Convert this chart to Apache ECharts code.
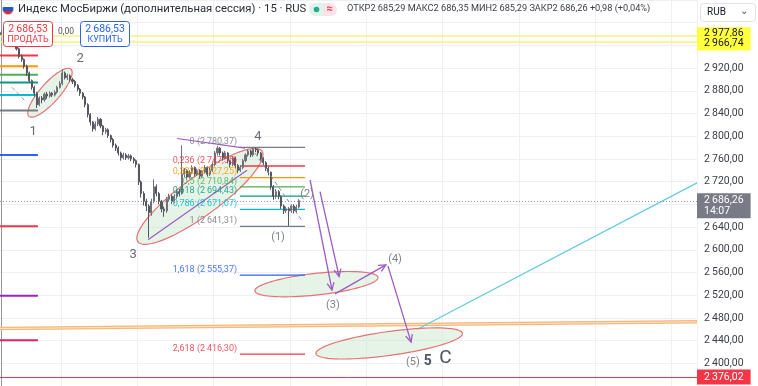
<!DOCTYPE html>
<html><head><meta charset="utf-8">
<script src="https://cdn.jsdelivr.net/npm/echarts@6/dist/echarts.min.js"></script>
<style>html,body{margin:0;padding:0;background:#fff}#c{width:758px;height:386px}</style>
</head><body><div id="c"></div>
<script>
// ---------- DATA ----------
const N_SLOTS = 274;                 // 15-min bar slots across the visible time range
const slots = Array.from({length: N_SLOTS}, (_, i) => 'b' + i);
// [open, close, low, high]
const candles = [
[2978,2982.9,2975,2986],[2982.9,2988.0,2980,2991],[2988.0,2977.8,2975,2990],[2977.8,2984.6,2976,2987],
[2984.6,2974.4,2971,2986],[2974.4,2965.9,2962,2977],[2965.9,2954.0,2951,2968],[2954.0,2940.4,2937,2956],
[2940.4,2935.3,2931,2944],[2935.3,2923.4,2919,2937],[2923.4,2911.5,2906,2926],[2911.5,2897.9,2894,2914],
[2897.9,2886.1,2882,2900],[2886.1,2875.8,2870,2889],[2875.8,2855.5,2850,2878],[2855.5,2867.4,2853,2870],
[2867.4,2864.0,2858,2871],[2864.0,2874.2,2861,2877],[2874.2,2870.8,2866,2878],[2870.8,2875.8,2868,2879],
[2875.8,2872.5,2869,2878],[2872.5,2877.6,2870,2881],[2877.6,2886.1,2875,2889],[2886.1,2892.9,2884,2897],
[2892.9,2911.5,2890,2918],[2911.5,2903.1,2900,2914],[2903.1,2906.5,2899,2910],[2906.5,2899.7,2896,2909],
[2899.7,2896.3,2892,2903],[2896.3,2889.5,2886,2899],[2889.5,2882.7,2879,2892],[2882.7,2875.8,2871,2885],
[2875.8,2869.1,2865,2878],[2869.1,2855.5,2851,2871],[2855.5,2838.5,2833,2858],[2838.5,2824.9,2819,2841],
[2824.9,2813.0,2808,2827],[2813.0,2821.5,2810,2826],[2821.5,2830.0,2818,2834],[2830.0,2818.1,2814,2832],
[2818.1,2807.9,2802,2820],[2807.9,2811.3,2804,2815],[2811.3,2801.1,2797,2814],[2801.1,2794.3,2789,2803],
[2794.3,2784.1,2780,2797],[2784.1,2779.0,2774,2787],[2779.0,2770.5,2766,2782],[2770.5,2762.0,2757,2773],
[2762.0,2767.1,2759,2771],[2767.1,2762.0,2758,2770],[2762.0,2765.4,2759,2769],[2765.4,2760.3,2756,2768],
[2760.3,2756.9,2752,2763],[2756.9,2750.1,2745,2759],[2750.1,2719.5,2714,2752],[2719.5,2699.1,2692,2722],
[2699.1,2685.5,2678,2703],[2685.5,2677.0,2668,2690],[2677.0,2665.1,2621,2680],[2665.1,2685.5,2660,2690],
[2685.5,2711.0,2682,2724],[2711.0,2699.1,2694,2715],[2699.1,2685.5,2680,2702],[2685.5,2672.0,2666,2688],
[2672.0,2668.6,2658,2676],[2668.6,2689.0,2665,2693],[2689.0,2694.0,2685,2699],[2694.0,2685.5,2681,2697],
[2685.5,2694.0,2682,2698],[2694.0,2702.5,2690,2706],[2702.5,2699.1,2694,2707],[2699.1,2733.1,2697,2784],
[2733.1,2739.9,2728,2744],[2739.9,2728.0,2724,2742],[2728.0,2736.5,2725,2740],[2736.5,2745.0,2733,2749],
[2745.0,2733.1,2729,2747],[2733.1,2739.9,2730,2743],[2739.9,2729.7,2725,2742],[2729.7,2736.5,2727,2740],
[2736.5,2745.0,2734,2749],[2745.0,2733.1,2729,2747],[2733.1,2739.9,2730,2744],[2739.9,2750.1,2737,2754],
[2750.1,2770.5,2747,2774],[2770.5,2779.0,2766,2783],[2779.0,2770.5,2766,2781],[2770.5,2762.0,2757,2773],
[2762.0,2770.5,2759,2774],[2770.5,2756.9,2752,2772],[2756.9,2750.1,2745,2759],[2750.1,2762.0,2747,2765],
[2762.0,2748.4,2743,2764],[2748.4,2739.9,2735,2751],[2739.9,2745.0,2737,2749],[2745.0,2756.9,2742,2760],
[2756.9,2767.1,2754,2770],[2767.1,2773.9,2764,2777],[2773.9,2767.1,2763,2776],[2767.1,2777.3,2764,2779],
[2777.3,2776.0,2772,2780.4],[2776.0,2770.5,2766,2778],[2770.5,2760.3,2756,2772],[2760.3,2753.5,2749,2763],
[2753.5,2743.3,2739,2756],[2743.3,2736.5,2731,2746],[2736.5,2711.0,2706,2738],[2711.0,2694.0,2688,2714],
[2694.0,2702.5,2690,2707],[2702.5,2694.0,2689,2705],[2694.0,2677.0,2672,2696],[2677.0,2668.6,2663,2680],
[2668.6,2672.0,2665,2676],[2672.0,2668.6,2642,2675],[2668.6,2677.0,2665,2680],[2677.0,2668.6,2664,2680],
[2668.6,2675.3,2665,2679],[2675.3,2686.26,2673,2689]
];

// Fibonacci retracement (right) : levels and prices
const fibLevels = ['0','0,236','0,382','0,5','0,618','0,786','1','1,618','2,618'];
const fibPrices = [2780.37,2747.55,2727.25,2710.84,2694.43,2671.07,2641.31,2555.37,2416.30];
const fibSpan = [93.8, 119.4];              // bar-index range of the fib lines
// Fibonacci levels (left, clipped)
const leftFibPrices = [2942.1,2923.4,2908.1,2894.6,2872.5,2845.3,2767.1,2641.3,2519.0,2440.8];
const leftFibSpan = [-0.5, 14.4];

// ellipses: [barA, priceA, barB, priceB, half-width in price]
const ellipses = [
  [10.9,2835.1, 27.4,2918.3, 17],
  [53.7,2614.1, 102.5,2773.9, 34],
  [99.7,2527.5, 148.1,2551.3, 19],
  [123.7,2417.1, 181.3,2452.8, 21]
];
// arrows: [barA, priceA, barB, priceB]
const arrows = [
  [121.4,2722.9, 130.0,2529.2],
  [125.3,2702.5, 132.8,2553.0],
  [131.2,2522.4, 151.2,2573.4],
  [152.0,2571.7, 161.1,2437.4]
];
const trendLines = [
  [69.1,2796.0, 95.8,2779.0],
  [57.7,2617.6, 96.6,2740.0]
];
const dashedLines = [
  [4.2,2886.1, 9.7,2860.6],
  [99.7,2770.5, 118.2,2651.5]
];
const cyanLine = [[163.4,2459.5, 273.5,2717.8]];
const orangeLine = [[-0.5,2461.2, 273.5,2473.1]];

const waveText = ['1','2','3','4','(1)','(2)','(3)','(4)','(5)','5','C'];
const waveBar  = [12.5,31.0,51.8,100.9,108.8,120.2,130.4,154.8,161.8,167.7,174.6];
const wavePrice= [2808,2937,2592,2799,2622.7,2697.4,2502,2583.6,2401.8,2403.5,2408.6];

const yellowLevels = [2977.86, 2966.74];
const lastPrice = 2686.26;
const lastTime = '14:07';
const lowLevel = 2376.02;
const bidAsk = 2686.53;
const spread = '0,00';
const yMin = 2360, yMax = 3040, yStep = 40;

// ---------- STYLE ----------
const FONT = 'Roboto, "Noto Sans", sans-serif';
const FIB_COLORS = ['#787b86','#f23645','#ff9800','#4caf50','#089981','#00bcd4','#787b86','#2962ff','#f23645'];
const LEFT_COLORS = ['#f23645','#ff9800','#4caf50','#089981','#00bcd4','#787b86','#2962ff','#f23645','#9c27b0','#e91e63'];
const PURPLE = '#9c5bc4';
const WAVE_STYLE = [
 [13,'normal','#6a6d78'],[13,'normal','#6a6d78'],[13,'normal','#6a6d78'],[13,'normal','#6a6d78'],
 [11,'normal','#80838d'],[11,'normal','#80838d'],[11,'normal','#80838d'],[11,'normal','#80838d'],[11,'normal','#80838d'],
 [14,'bold','#50535e'],[19,'normal','#50535e']
];

function fmt(v){
  const s = v.toFixed(2).split('.');
  return s[0].replace(/\B(?=(\d{3})+(?!\d))/g,'\u2009') + ',' + s[1];
}
function segRender(color, width, dash, arrow){
  return function(params, api){
    const a = api.coord([api.value(0), api.value(1)]);
    const b = api.coord([api.value(2), api.value(3)]);
    const ch = [{type:'line', shape:{x1:a[0],y1:a[1],x2:b[0],y2:b[1]}, style:{stroke:color,lineWidth:width,lineDash:dash||null}}];
    if (arrow){
      const ang = Math.atan2(b[1]-a[1], b[0]-a[0]), L = 8, W = 0.45;
      ch.push({type:'polyline', shape:{points:[[b[0]-L*Math.cos(ang-W), b[1]-L*Math.sin(ang-W)], [b[0],b[1]], [b[0]-L*Math.cos(ang+W), b[1]-L*Math.sin(ang+W)]]},
        style:{stroke:color,lineWidth:width,fill:null}});
    }
    return {type:'group', children: ch};
  };
}
function segSeries(data, color, width, dash, arrow, z){
  return {type:'custom', xAxisIndex:1, yAxisIndex:0, data, z: z||3, silent:true, clip:false,
    renderItem: segRender(color,width,dash,arrow)};
}
function levelRender(colors, width){
  return function(params, api){
    const a = api.coord([api.value(0), api.value(2)]);
    const b = api.coord([api.value(1), api.value(2)]);
    return {type:'line', shape:{x1:a[0],y1:a[1],x2:b[0],y2:b[1]}, style:{stroke:colors[params.dataIndex], lineWidth:width}};
  };
}

const fibLineData = fibPrices.map(p => [fibSpan[0], fibSpan[1], p]);
const leftLineData = leftFibPrices.map(p => [leftFibSpan[0], leftFibSpan[1], p]);
const fibLabelData = fibPrices.map((p,i) => [fibSpan[0]-1.1, p, i]);
const waveData = waveText.map((t,i) => [waveBar[i], wavePrice[i], i]);

const chart = echarts.init(document.getElementById('c'));
chart.setOption({
  animation:false,
  textStyle:{fontFamily:FONT},
  grid:{left:0, right:61, top:-8.6, bottom:-5.5, containLabel:false},
  xAxis:[
    {type:'category', data:slots, boundaryGap:true, axisLine:{show:false}, axisTick:{show:false}, axisLabel:{show:false},
     splitLine:{show:true, interval:(i)=> i%30===24, lineStyle:{color:'#eef0f5'}}},
    {type:'value', min:-0.5, max:N_SLOTS-0.5, show:false}
  ],
  yAxis:{type:'value', position:'right', min:yMin, max:yMax, interval:yStep, scale:true,
    axisLine:{show:true, lineStyle:{color:'#9598a1'}}, axisTick:{show:false},
    axisLabel:{color:'#3b3e47', fontSize:10.5, margin:7, fontFamily:FONT,
      formatter:(v)=> (v>2930||v<2390||v===2680) ? '' : fmt(v)},
    splitLine:{show:true, lineStyle:{color:'#eef0f5'}}},
  series:[
    {type:'line', xAxisIndex:1, data:[], silent:true,
     markLine:{symbol:'none', silent:true, animation:false, data:[
       {yAxis:yellowLevels[0], lineStyle:{color:'#fff176',width:1.5,type:'solid'},
        label:{position:'end', distance:0, formatter:fmt(yellowLevels[0]), backgroundColor:'#ffff3b', color:'#131722', fontSize:10.5, padding:[1,7,0,7], offset:[0,-2]}},
       {yAxis:yellowLevels[1], lineStyle:{color:'#fff176',width:1.5,type:'solid'},
        label:{position:'end', distance:0, formatter:fmt(yellowLevels[1]), backgroundColor:'#ffff3b', color:'#131722', fontSize:10.5, padding:[1,7,2,7], offset:[0,2]}},
       {yAxis:lowLevel, lineStyle:{color:'#f23645',width:1,type:'solid'},
        label:{position:'end', distance:0, formatter:fmt(lowLevel), backgroundColor:'#f23645', color:'#fff', fontSize:10.5, padding:[2,7,2,7]}},
       {yAxis:lastPrice, lineStyle:{color:'#9598a1',width:1,type:[1,2]},
        label:{position:'end', distance:0, formatter:fmt(lastPrice)+'\n'+lastTime, backgroundColor:'#787b86', color:'#fff', fontSize:10.5, lineHeight:11, padding:[2,7,1,7], offset:[0,5]}}
     ]}},
    segSeries(orangeLine, '#f5b97a', 3.5, null, false, 2),
    segSeries(orangeLine, '#fbe3c6', 1, null, false, 2),
    segSeries(cyanLine, '#62cbdd', 1.2, null, false, 2),
    {type:'custom', xAxisIndex:1, data:leftLineData, silent:true, z:3, renderItem:levelRender(LEFT_COLORS, 2)},
    {type:'custom', xAxisIndex:1, data:fibLineData, silent:true, z:3, renderItem:levelRender(FIB_COLORS, 1.3)},
    {type:'custom', xAxisIndex:1, data:ellipses, silent:true, z:2, clip:false,
     renderItem:function(params, api){
       const a = api.coord([api.value(0), api.value(1)]);
       const b = api.coord([api.value(2), api.value(3)]);
       const h = Math.abs(api.size([0, api.value(4)])[1]);
       const cx=(a[0]+b[0])/2, cy=(a[1]+b[1])/2;
       const A = Math.hypot(b[0]-a[0], b[1]-a[1])/2, th = Math.atan2(b[1]-a[1], b[0]-a[0]);
       const pts=[];
       for(let k=0;k<90;k++){ const t=k/90*Math.PI*2;
         pts.push([cx + A*Math.cos(t)*Math.cos(th) - h*Math.sin(t)*Math.sin(th),
                   cy + A*Math.cos(t)*Math.sin(th) + h*Math.sin(t)*Math.cos(th)]); }
       return {type:'polygon', shape:{points:pts}, style:{fill:'rgba(200,230,201,0.45)', stroke:'#e57373', lineWidth:1.2}};
     }},
    {type:'candlestick', xAxisIndex:0, data:candles, barWidth:'62%', z:4, silent:true,
     itemStyle:{color:'#6f7079', color0:'#55565e', borderColor:'#6f7079', borderColor0:'#55565e', borderWidth:1}},
    segSeries(trendLines, PURPLE, 1.2, null, false, 5),
    segSeries(arrows, PURPLE, 1.3, null, true, 5),
    segSeries(dashedLines, '#8a8d96', 1, [4,3], false, 5),
    {type:'custom', xAxisIndex:1, data:fibLabelData, silent:true, z:6, clip:false,
     renderItem:function(params, api){
       const p = api.coord([api.value(0), api.value(1)]);
       const i = api.value(2);
       return {type:'text', x:p[0], y:p[1]-1, style:{text: fibLevels[i]+' ('+fmt(fibPrices[i])+')', fill:FIB_COLORS[i],
         font:'9px '+FONT, align:'right', verticalAlign:'bottom', opacity:0.85}};
     }},
    {type:'custom', xAxisIndex:1, data:waveData, silent:true, z:6, clip:false,
     renderItem:function(params, api){
       const p = api.coord([api.value(0), api.value(1)]);
       const i = api.value(2), s = WAVE_STYLE[i];
       return {type:'text', x:p[0], y:p[1], style:{text: waveText[i], fill:s[2],
         font:s[1]+' '+s[0]+'px '+FONT, align:'center', verticalAlign:'middle'}};
     }}
  ],
  graphic:[
    // header
    {type:'circle', shape:{cx:8,cy:9,r:5.5}, z:100, style:{fill:new echarts.graphic.LinearGradient(0,0,0,1,[
      {offset:0,color:'#ffffff'},{offset:0.33,color:'#ffffff'},{offset:0.33,color:'#1c57d6'},{offset:0.66,color:'#1c57d6'},{offset:0.66,color:'#e02b2b'},{offset:1,color:'#e02b2b'}]), stroke:'#c9ccd3', lineWidth:0.5}},
    {type:'text', x:18, y:9, z:100, style:{text:'Индекс МосБиржи (дополнительная сессия) · 15 · RUS', fill:'#2a2e39', font:'11.3px '+FONT, verticalAlign:'middle'}},
    {type:'rect', shape:{x:309,y:3,width:14,height:13,r:[6.5,0,0,6.5]}, z:100, style:{fill:'#dff3ea'}},
    {type:'rect', shape:{x:323,y:3,width:14,height:13,r:[0,6.5,6.5,0]}, z:100, style:{fill:'#fde4e8'}},
    {type:'circle', shape:{cx:316.5,cy:9.5,r:2.8}, z:101, style:{fill:'#22ab94'}},
    {type:'text', x:329.5, y:9.5, z:101, style:{text:'≈', fill:'#f23645', font:'bold 11px '+FONT, align:'center', verticalAlign:'middle'}},
    {type:'text', x:347, y:9, z:100, style:{text:'ОТКР2 685,29 МАКС2 686,35 МИН2 685,29 ЗАКР2 686,26 +0,98 (+0,04%)', fill:'#3b3e47', font:'9.2px '+FONT, verticalAlign:'middle'}},
    // sell / buy
    {type:'rect', shape:{x:3.5,y:21.5,width:49,height:25,r:3}, z:100, style:{fill:'#fff', stroke:'#f23645', lineWidth:1}},
    {type:'text', x:28, y:29, z:101, style:{text:fmt(bidAsk), fill:'#f23645', font:'10.5px '+FONT, align:'center', verticalAlign:'middle'}},
    {type:'text', x:28, y:40, z:101, style:{text:'ПРОДАТЬ', fill:'#f23645', font:'9px '+FONT, align:'center', verticalAlign:'middle'}},
    {type:'text', x:66, y:32, z:101, style:{text:spread, fill:'#50535e', font:'8.5px '+FONT, align:'center', verticalAlign:'middle'}},
    {type:'rect', shape:{x:80.5,y:21.5,width:49,height:25,r:3}, z:100, style:{fill:'#fff', stroke:'#2962ff', lineWidth:1}},
    {type:'text', x:105, y:29, z:101, style:{text:fmt(bidAsk), fill:'#2962ff', font:'10.5px '+FONT, align:'center', verticalAlign:'middle'}},
    {type:'text', x:105, y:40, z:101, style:{text:'КУПИТЬ', fill:'#2962ff', font:'9px '+FONT, align:'center', verticalAlign:'middle'}},
    // currency box
    {type:'rect', shape:{x:700.5,y:3.5,width:55,height:18,r:3}, z:100, style:{fill:'#fff', stroke:'#e0e3eb', lineWidth:1}},
    {type:'text', x:707, y:12.5, z:101, style:{text:'RUB', fill:'#131722', font:'10px '+FONT, verticalAlign:'middle'}},
    {type:'text', x:744, y:11.5, z:101, style:{text:'⌄', fill:'#50535e', font:'10px '+FONT, align:'center', verticalAlign:'middle'}}
  ]
});
</script></body></html>
